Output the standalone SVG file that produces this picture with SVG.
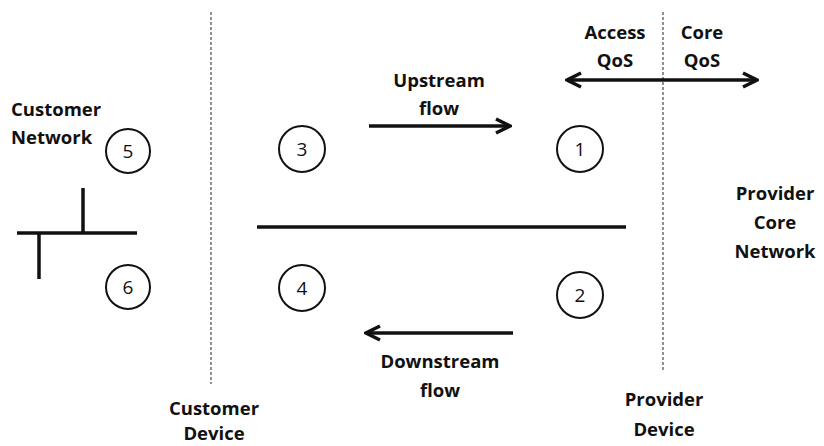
<svg xmlns="http://www.w3.org/2000/svg" width="824" height="446" viewBox="0 0 824 446">
<style>
.lbl{font-family:"Open Sans","Liberation Sans",sans-serif;font-weight:bold;font-size:18.5px;fill:#111}
.num{font-family:"Open Sans","Liberation Sans",sans-serif;font-size:19px;fill:#111;text-anchor:middle}
.c{fill:none;stroke:#111;stroke-width:2}
.dash{stroke:#222;stroke-width:1;stroke-dasharray:3,2;fill:none}
.thick{stroke:#111;stroke-width:3.5;fill:none}
.mid{text-anchor:middle}
</style>
<defs>
<marker id="ah" viewBox="0 0 10 10" refX="9" refY="5" markerWidth="5" markerHeight="5" orient="auto-start-reverse" markerUnits="strokeWidth">
<polyline points="1,1 9,5 1,9" fill="none" stroke="#111" stroke-width="2"/>
</marker>
</defs>
<rect width="824" height="446" fill="#fff"/>
<g id="boundaries">
<line class="dash" x1="211" y1="12" x2="211" y2="384"/>
<line class="dash" x1="663" y1="12" x2="663" y2="370"/>
</g>
<g id="customer-network">
<text class="lbl" x="11" y="116">Customer</text>
<text class="lbl" x="11" y="144">Network</text>
<line class="thick" x1="17" y1="233" x2="137" y2="233" stroke-width="3"/>
<line class="thick" x1="83" y1="188" x2="83" y2="233" stroke-width="3"/>
<line class="thick" x1="39" y1="233" x2="39" y2="279" stroke-width="3"/>
</g>
<g id="n5"><circle class="c" cx="128" cy="151" r="22"/><text class="num" x="128" y="158">5</text></g>
<g id="n6"><circle class="c" cx="128" cy="287" r="22"/><text class="num" x="128" y="294">6</text></g>
<g id="n3"><circle class="c" cx="302" cy="149" r="23"/><text class="num" x="302" y="156">3</text></g>
<g id="n1"><circle class="c" cx="580" cy="149" r="23"/><text class="num" x="580" y="156">1</text></g>
<g id="n4"><circle class="c" cx="302" cy="288" r="23"/><text class="num" x="302" y="295">4</text></g>
<g id="n2"><circle class="c" cx="580" cy="295" r="23"/><text class="num" x="580" y="302">2</text></g>
<g id="connectors">
<line class="thick" x1="257" y1="227" x2="626" y2="227"/>
<line class="thick" x1="369" y1="126" x2="510" y2="126" marker-end="url(#ah)"/>
<line class="thick" x1="513" y1="333" x2="366" y2="333" marker-end="url(#ah)"/>
<line class="thick" x1="567" y1="80" x2="757" y2="80" stroke-width="3" marker-start="url(#ah)" marker-end="url(#ah)"/>
</g>
<g id="labels">
<text class="lbl mid" x="439" y="87">Upstream</text>
<text class="lbl mid" x="439" y="115">flow</text>
<text class="lbl mid" x="440" y="368">Downstream</text>
<text class="lbl mid" x="440" y="397">flow</text>
<text class="lbl mid" x="615" y="39">Access</text>
<text class="lbl mid" x="615" y="67">QoS</text>
<text class="lbl mid" x="702" y="39">Core</text>
<text class="lbl mid" x="702" y="67">QoS</text>
<text class="lbl mid" x="775" y="200">Provider</text>
<text class="lbl mid" x="775" y="229">Core</text>
<text class="lbl mid" x="775" y="258">Network</text>
<text class="lbl mid" x="214" y="415">Customer</text>
<text class="lbl mid" x="214" y="440">Device</text>
<text class="lbl mid" x="664" y="406">Provider</text>
<text class="lbl mid" x="664" y="436">Device</text>
</g>
</svg>
